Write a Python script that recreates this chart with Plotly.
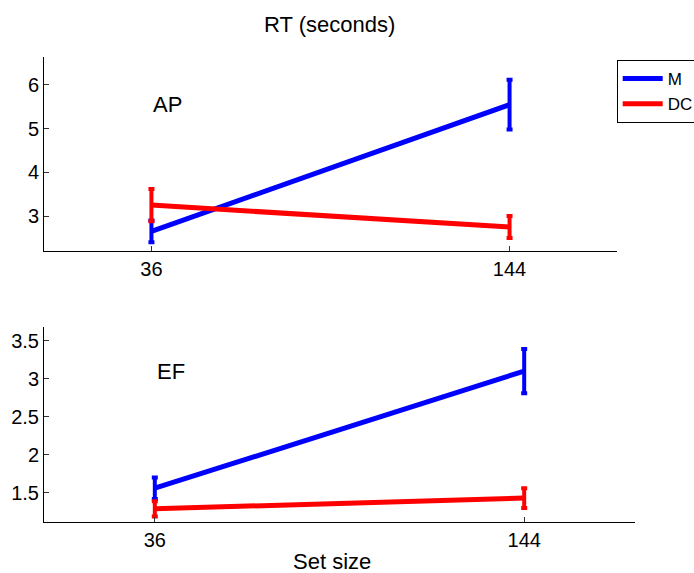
import plotly.graph_objects as go

set_sizes = [36, 144]
x_tick_labels = ["36", "144"]

ap_m = [2.65, 5.55]
ap_m_err = [0.25, 0.57]
ap_dc = [3.25, 2.75]
ap_dc_err = [0.37, 0.25]

ef_m = [1.56, 3.10]
ef_m_err = [0.14, 0.29]
ef_dc = [1.29, 1.43]
ef_dc_err = [0.10, 0.13]

W, H = 694, 573
FONT = "Liberation Sans, Arial, Helvetica, sans-serif"
BLUE = "#0000ff"
RED = "#ff0000"


def px(x):
    return x / W


def py(y):
    return 1 - y / H


fig = go.Figure()


def add(x, y, err, color, name, xa, ya, show):
    fig.add_trace(go.Scatter(
        x=x, y=y, mode="lines", name=name, showlegend=show,
        line=dict(color=color, width=5),
        error_y=dict(type="data", array=err, visible=True, color=color,
                     thickness=4, width=3),
        xaxis=xa, yaxis=ya,
    ))


add(set_sizes, ap_m, ap_m_err, BLUE, "M", "x", "y", True)
add(set_sizes, ap_dc, ap_dc_err, RED, "DC", "x", "y", True)
add(set_sizes, ef_m, ef_m_err, BLUE, "M", "x2", "y2", False)
add(set_sizes, ef_dc, ef_dc_err, RED, "DC", "x2", "y2", False)

axis_common = dict(showline=True, linecolor="black", linewidth=1,
                   ticks="inside", ticklen=5, tickcolor="#333",
                   showgrid=False, zeroline=False,
                   tickfont=dict(family=FONT, size=20, color="black"))

fig.update_layout(
    width=W, height=H, autosize=False,
    margin=dict(l=0, r=0, t=0, b=0, autoexpand=False),
    plot_bgcolor="white", paper_bgcolor="white",
    font=dict(family=FONT, size=20, color="black"),
    xaxis=dict(domain=[px(44), px(617)], range=[3.6, 176.4],
               tickvals=set_sizes, ticktext=x_tick_labels, anchor="y",
               **axis_common),
    yaxis=dict(domain=[py(251), py(57)], range=[2.2, 6.64],
               tickvals=[3, 4, 5, 6], anchor="x", **axis_common),
    xaxis2=dict(domain=[px(44), px(635)], range=[3.6, 176.4],
                tickvals=set_sizes, ticktext=x_tick_labels, anchor="y2",
                **axis_common),
    yaxis2=dict(domain=[py(521.7), py(327)], range=[1.12, 3.68],
                tickvals=[1.5, 2, 2.5, 3, 3.5], ticktext=["1.5", "2", "2.5", "3", "3.5"],
                anchor="x2", **axis_common),
    legend=dict(x=px(616.7), y=py(60), xanchor="left", yanchor="top",
                bordercolor="black", borderwidth=1, bgcolor="white",
                font=dict(family=FONT, size=17, color="black"),
                tracegroupgap=0, itemwidth=40),
    annotations=[
        dict(text="RT (seconds)", x=px(329), y=py(24), xref="paper", yref="paper",
             showarrow=False, font=dict(size=22), xanchor="center", yanchor="middle"),
        dict(text="Set size", x=px(332), y=py(561), xref="paper", yref="paper",
             showarrow=False, font=dict(size=22), xanchor="center", yanchor="middle"),
        dict(text="AP", x=36, y=5.56, xref="x", yref="y", showarrow=False,
             font=dict(size=22), xanchor="left", yanchor="middle"),
        dict(text="EF", x=36, y=3.09, xref="x2", yref="y2", showarrow=False,
             font=dict(size=22), xanchor="left", yanchor="middle"),
    ],
)

post = ("document.body.style.margin='0';"
        "document.body.style.padding='0';"
        "document.body.style.overflow='hidden';"
        "document.documentElement.style.overflow='hidden';")

fig.write_html("out.html", post_script=post,
               config={"displayModeBar": False, "responsive": False})
